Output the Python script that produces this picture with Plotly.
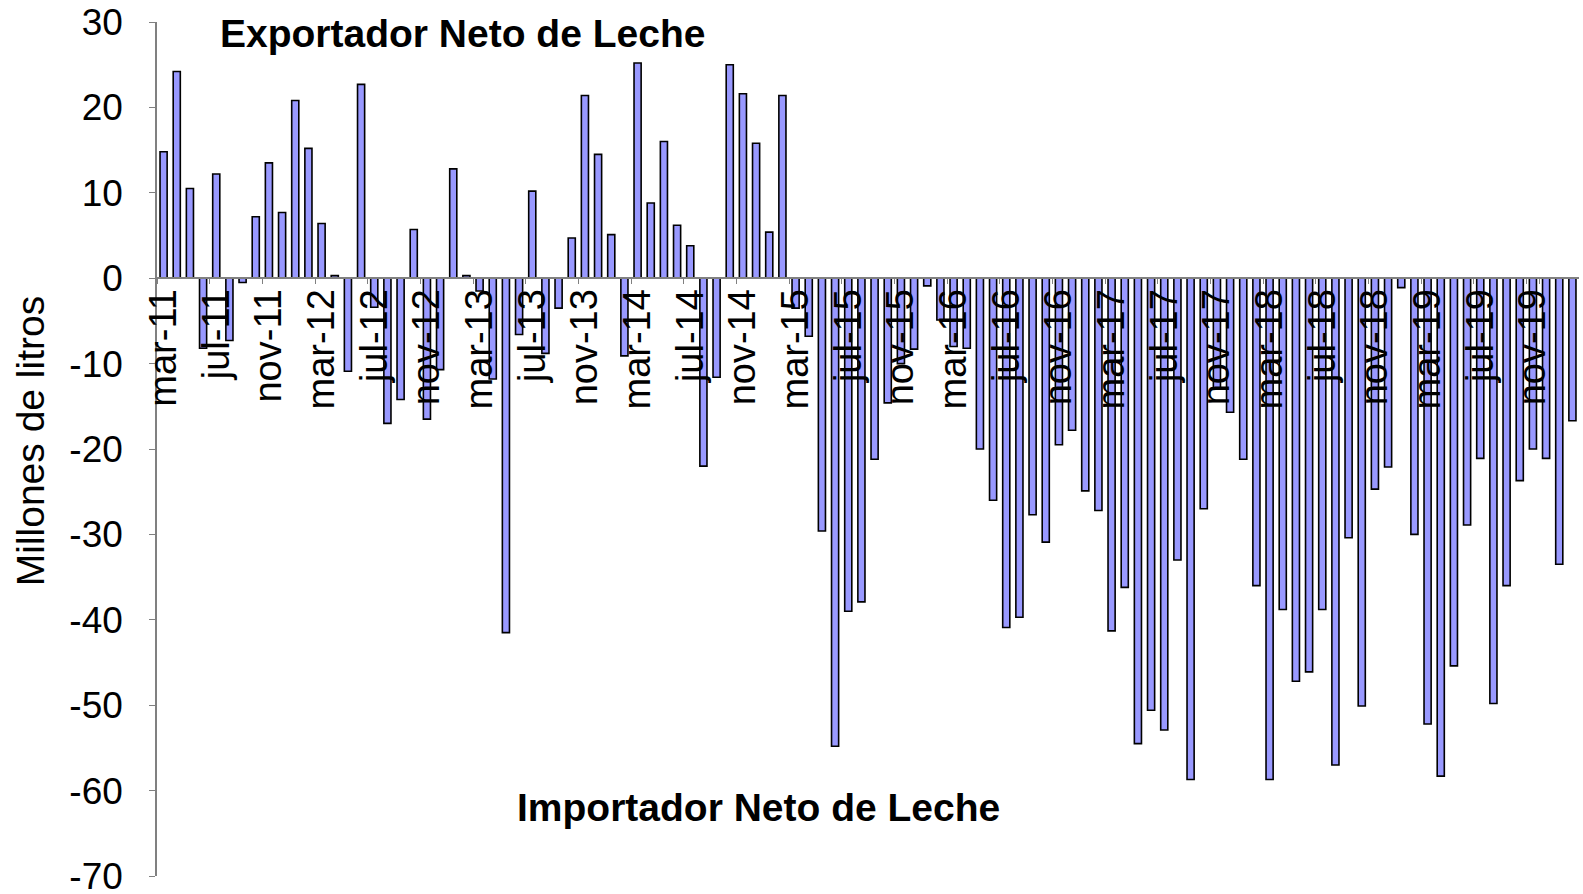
import plotly.graph_objects as go

# ---- data (millones de litros, monthly net trade of milk) ----
month_names = ["mar", "abr", "may", "jun", "jul", "ago", "sep", "oct", "nov", "dic", "ene", "feb"]
first_year = 11

net_trade = [
    14.8, 24.2, 10.5, -8.2, 12.2, -7.3, -0.5, 7.2, 13.5, 7.7, 20.8, 15.2,          # mar-11 .. feb-12
    6.4, 0.3, -10.9, 22.7, -3.4, -17.0, -14.2, 5.7, -16.5, -10.7, 12.8, 0.3,      # mar-12 .. feb-13
    -1.5, -11.8, -41.5, -6.6, 10.2, -8.8, -3.5, 4.7, 21.4, 14.5, 5.1, -9.1,       # mar-13 .. feb-14
    25.2, 8.8, 16.0, 6.2, 3.8, -22.0, -11.6, 25.0, 21.6, 15.8, 5.4, 21.4,         # mar-14 .. feb-15
    -3.5, -6.8, -29.6, -54.8, -39.0, -37.9, -21.2, -14.6, -10.0, -8.3, -0.9, -4.9, # mar-15 .. feb-16
    -8.0, -8.2, -20.0, -26.0, -40.9, -39.7, -27.7, -30.9, -19.5, -17.8, -24.9, -27.2,  # mar-16 .. feb-17
    -41.3, -36.2, -54.5, -50.6, -52.9, -33.0, -58.7, -27.0, -13.0, -15.7, -21.2, -36.0, # mar-17 .. feb-18
    -58.7, -38.8, -47.2, -46.1, -38.8, -57.0, -30.4, -50.1, -24.7, -22.1, -1.1, -30.0,  # mar-18 .. feb-19
    -52.2, -58.3, -45.4, -28.9, -21.1, -49.8, -36.0, -23.7, -20.0, -21.1, -33.5, -16.7, # mar-19 .. feb-20
]

categories = []
for i in range(len(net_trade)):
    yr = first_year + (i + 2) // 12
    categories.append(f"{month_names[i % 12]}-{yr}")

label_step = 4
tick_categories = categories[::label_step]

y_ticks = [30, 20, 10, 0, -10, -20, -30, -40, -50, -60, -70]
y_tick_text = [str(v) for v in y_ticks]

top_label = "Exportador Neto de Leche"
bottom_label = "Importador Neto de Leche"
y_title = "Millones de litros"

# ---- layout geometry (page pixels; body margin removed in post_script) ----
W, H = 1583, 894
plot_left, plot_right, plot_top, plot_bottom = 156.5, 1579, 22.2, 876.4
ml = plot_left
mr = W - plot_right
mt = plot_top
mb = H - plot_bottom
pw, ph = W - ml - mr, H - mt - mb


def px_x(x):
    return (x - ml) / pw


def px_y(y):
    return (H - mb - y) / ph


FONT = "Liberation Sans, Arial, sans-serif"

fig = go.Figure(
    go.Bar(
        x=categories,
        y=net_trade,
        marker=dict(color="#9999ff", line=dict(color="#000000", width=1.6)),
        hoverinfo="x+y",
    )
)

zero_frac = (0 - y_ticks[-1]) / (y_ticks[0] - y_ticks[-1])

fig.update_layout(
    width=W,
    height=H,
    margin=dict(l=ml, r=mr, t=mt, b=mb, pad=0, autoexpand=False),
    paper_bgcolor="white",
    plot_bgcolor="white",
    bargap=0.46,
    showlegend=False,
    font=dict(family=FONT, color="black"),
    xaxis=dict(
        type="category",
        anchor="free",
        position=zero_frac,
        automargin=False,
        range=[-0.5, len(categories) - 0.5],
        tickmode="array",
        tickvals=tick_categories,
        ticktext=tick_categories,
        tickson="boundaries",
        ticks="outside",
        ticklen=5,
        tickcolor="#808080",
        tickwidth=1,
        tickangle=-90,
        ticklabelstandoff=-5,
        ticklabeloverflow="allow",
        tickfont=dict(family=FONT, size=38, color="black"),
        showline=True,
        linecolor="#808080",
        linewidth=1.5,
        showgrid=False,
        zeroline=False,
    ),
    yaxis=dict(
        automargin=False,
        range=[y_ticks[-1], y_ticks[0]],
        tickmode="array",
        tickvals=y_ticks,
        ticktext=y_tick_text,
        ticks="outside",
        ticklen=6,
        tickcolor="#808080",
        tickwidth=1,
        ticklabelstandoff=19,
        ticklabeloverflow="allow",
        tickfont=dict(family=FONT, size=37, color="black"),
        showline=True,
        linecolor="#808080",
        linewidth=1.5,
        showgrid=False,
        zeroline=False,
    ),
    annotations=[
        dict(text=top_label, xref="paper", yref="paper", x=px_x(462), y=px_y(34),
             xanchor="center", yanchor="middle", showarrow=False,
             font=dict(family=FONT, size=39, color="black", weight="bold")),
        dict(text=bottom_label, xref="paper", yref="paper", x=px_x(758), y=px_y(808),
             xanchor="center", yanchor="middle", showarrow=False,
             font=dict(family=FONT, size=39, color="black", weight="bold")),
        dict(text=y_title, xref="paper", yref="paper", x=px_x(30), y=px_y(442),
             xanchor="center", yanchor="middle", showarrow=False, textangle=-90,
             font=dict(family=FONT, size=39, color="black")),
    ],
)

fig.write_html(
    "out.html",
    config={"displayModeBar": False},
    post_script="document.body.style.margin='0';document.body.style.overflow='hidden';",
)
